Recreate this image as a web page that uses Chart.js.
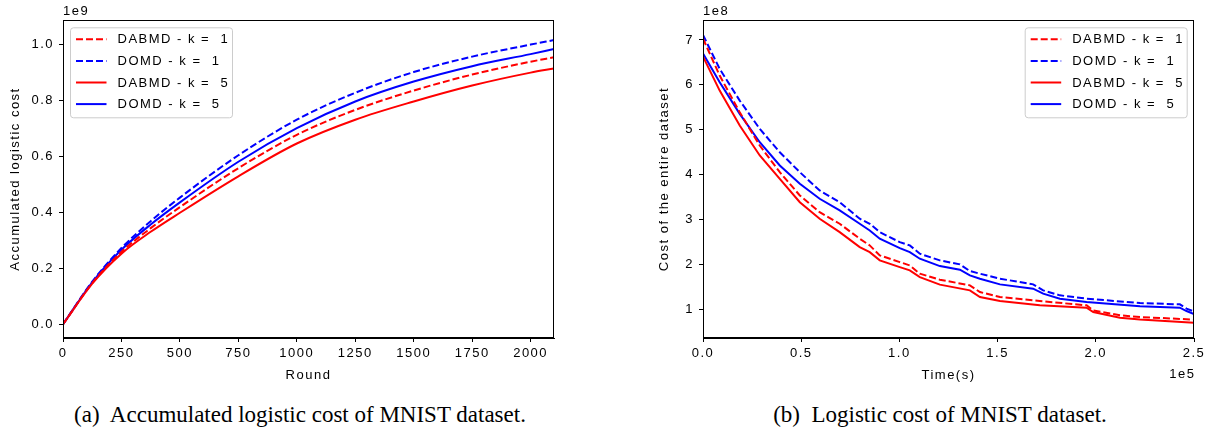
<!DOCTYPE html>
<html><head><meta charset="utf-8">
<script src="https://cdn.jsdelivr.net/npm/chart.js@4.4.1/dist/chart.umd.min.js"></script>
<style>
body{margin:0;background:#fff;width:1212px;height:434px;position:relative;overflow:hidden}
canvas{position:absolute;top:0}
#c1{left:0}
#c2{left:640px}
.cap{position:absolute;font-family:"Liberation Serif","Times New Roman",serif;font-size:23px;line-height:23px;color:#000;white-space:pre;top:403px;transform:translateX(-50%)}
</style></head><body>
<canvas id="c1" width="600" height="388"></canvas>
<canvas id="c2" width="572" height="388"></canvas>
<div class="cap" style="left:300px">(a)  Accumulated logistic cost of MNIST dataset.</div>
<div class="cap" style="left:940px">(b)  Logistic cost of MNIST dataset.</div>
<script>
// ---------- (a) Accumulated logistic cost (units of 1e9) ----------
const rounds = [0, 125, 250, 375, 500, 750, 1000, 1250, 1500, 1750, 2000, 2100];
const accDABMDk1 = [0, 0.147, 0.258, 0.343, 0.418, 0.557, 0.676, 0.765, 0.834, 0.891, 0.937, 0.9525];
const accDOMDk1  = [0, 0.152, 0.272, 0.368, 0.452, 0.603, 0.730, 0.826, 0.900, 0.955, 0.998, 1.014];
const accDABMDk5 = [0, 0.145, 0.252, 0.330, 0.398, 0.528, 0.645, 0.730, 0.795, 0.852, 0.898, 0.913];
const accDOMDk5  = [0, 0.150, 0.266, 0.356, 0.435, 0.580, 0.700, 0.795, 0.866, 0.921, 0.964, 0.982];
const roundTicks = [0, 250, 500, 750, 1000, 1250, 1500, 1750, 2000];
const accTicks = [0, 0.2, 0.4, 0.6, 0.8, 1.0];

// ---------- (b) Logistic cost of the entire dataset (time in s, cost in 1e8) ----------
const timeEarly = [0, 8500, 18700, 28900, 39100, 49300, 59400, 69600, 79800, 84900, 90000, 100200, 105300, 110400];
const timeLateDOMD = [120600, 130800, 135900, 141000, 151200, 168100, 173200, 181700, 195300, 222500, 242800, 246200, 250000];
const timeLateDABMD = [120600, 135900, 141000, 151200, 171500, 195300, 198700, 212300, 222500, 250000];
const costDABMDk1 = [7.03, 6.207, 5.391, 4.651, 4.058, 3.540, 3.169, 2.911, 2.578, 2.429, 2.207, 2.058, 1.984, 1.800,
                     1.667, 1.540, 1.391, 1.280, 1.191, 1.096, 0.984, 0.873, 0.836, 0.778];
const costDOMDk1  = [7.11, 6.356, 5.651, 5.022, 4.502, 4.058, 3.651, 3.391, 3.022, 2.911, 2.724, 2.502, 2.429, 2.244,
                     2.096, 2.007, 1.858, 1.800, 1.689, 1.562, 1.429, 1.318, 1.244, 1.147, 1.118, 1.022, 0.96];
const costDABMDk5 = [6.63, 5.873, 5.096, 4.429, 3.911, 3.391, 3.022, 2.724, 2.391, 2.280, 2.096, 1.947, 1.873, 1.724,
                     1.556, 1.429, 1.280, 1.191, 1.096, 1.044, 0.947, 0.822, 0.778, 0.71];
const costDOMDk5  = [6.70, 6.058, 5.356, 4.724, 4.207, 3.800, 3.467, 3.207, 2.911, 2.762, 2.578, 2.369, 2.280, 2.133,
                     1.969, 1.889, 1.762, 1.689, 1.562, 1.467, 1.356, 1.244, 1.169, 1.073, 1.044, 0.969, 0.90];
const timeTicks = [0, 50000, 100000, 150000, 200000, 250000];
const costTicks = [1, 2, 3, 4, 5, 6, 7];

const labels = ['DABMD - k =  1', 'DOMD - k =  1', 'DABMD - k =  5', 'DOMD - k =  5'];
const RED = '#ff0000', BLUE = '#0000ff';

function pts(xs, ys, mult){ return xs.map((x,i)=>({x:x, y:ys[i]*mult})); }

Chart.defaults.font.family = '"Liberation Sans", Arial, Helvetica, sans-serif';
Chart.defaults.font.size = 13;
Chart.defaults.color = '#000';
Chart.defaults.animation = false;

const spacingPlugin = {
  id:'spacing',
  beforeLayout(c){ c.ctx.letterSpacing = '1.5px'; },
  beforeDraw(c){ c.ctx.letterSpacing = '1.5px'; }
};

const framePlugin = {
  id:'frame',
  afterDraw(c, args, o){
    const ctx = c.ctx, a = c.chartArea;
    ctx.save();
    ctx.strokeStyle = '#000'; ctx.lineWidth = 1;
    ctx.strokeRect(Math.round(a.left)+0.5, Math.round(a.top)+0.5, Math.round(a.right-a.left)-1, Math.round(a.bottom-a.top)-1);
    ctx.letterSpacing = '1.5px';
    ctx.font = '13px "Liberation Sans", Arial, sans-serif';
    ctx.fillStyle = '#000';
    ctx.textBaseline = 'alphabetic';
    if (o.yOffset){ ctx.textAlign='left'; ctx.fillText(o.yOffset, a.left, 15); }
    if (o.xOffset){ ctx.textAlign='right'; ctx.fillText(o.xOffset, a.right+1.5, 378); }
    ctx.restore();
  }
};

const legendPlugin = {
  id:'boxLegend',
  afterDatasetsDraw(c, args, o){
    const ctx = c.ctx, a = c.chartArea;
    const w = 162, h = 90;
    const x = o.side === 'left' ? a.left + 7 : a.right - 7.3 - w;
    const y = a.top + 7.3;
    ctx.save();
    ctx.beginPath();
    ctx.roundRect(x+0.5, y+0.5, w, h, 3);
    ctx.fillStyle = 'rgba(255,255,255,0.8)'; ctx.fill();
    ctx.strokeStyle = '#cccccc'; ctx.lineWidth = 1; ctx.stroke();
    ctx.letterSpacing = '1.5px';
    ctx.font = '13px "Liberation Sans", Arial, sans-serif';
    ctx.textBaseline = 'middle'; ctx.textAlign = 'left';
    c.data.datasets.forEach((ds,i)=>{
      const ry = y + 12 + i*21.6;
      ctx.beginPath();
      ctx.setLineDash(ds.borderDash || []);
      ctx.strokeStyle = ds.borderColor; ctx.lineWidth = 2;
      ctx.moveTo(x+6, ry); ctx.lineTo(x+36.5, ry); ctx.stroke();
      ctx.setLineDash([]);
      ctx.fillStyle = '#000';
      ctx.fillText(ds.label, x+47.5, ry+0.5);
    });
    ctx.restore();
  }
};

function axisCommon(){
  return {
    type:'linear',
    grid:{drawOnChartArea:false, drawTicks:true, tickLength:4, color:'#000', tickColor:'#000', tickWidth:1},
    border:{display:true, color:'#000', width:1},
  };
}

function dsets(series, mode){
  const styles = [[RED,[7,3]],[BLUE,[7,3]],[RED,[]],[BLUE,[]]];
  return series.map((s,i)=>({
    label: labels[i], data: s, borderColor: styles[i][0], borderDash: styles[i][1],
    borderWidth: 2, pointRadius: 0, fill:false, tension:0, cubicInterpolationMode: mode
  }));
}

// Chart (a)
new Chart(document.getElementById('c1'), {
  type:'line',
  data:{ datasets: dsets([
    pts(rounds, accDABMDk1, 1e9), pts(rounds, accDOMDk1, 1e9),
    pts(rounds, accDABMDk5, 1e9), pts(rounds, accDOMDk5, 1e9)], 'monotone') },
  options:{
    responsive:false, devicePixelRatio:1,
    layout:{padding:{left:0, right:46, top:20, bottom:0}},
    plugins:{legend:{display:false}, tooltip:{enabled:false}, frame:{yOffset:'1e9'}, boxLegend:{side:'left'}},
    scales:{
      x: Object.assign(axisCommon(), {
        min:0, max:2100,
        afterBuildTicks: s => { s.ticks = roundTicks.map(v=>({value:v})); },
        ticks:{autoSkip:false, maxRotation:0, padding:4, callback:v=>String(v)},
        title:{display:true, text:'Round', padding:{top:0, bottom:5}},
        afterFit: s => { s.height = 50; }
      }),
      y: Object.assign(axisCommon(), {
        min:-0.0489e9, max:1.0857e9,
        afterBuildTicks: s => { s.ticks = accTicks.map(v=>({value:v*1e9})); },
        ticks:{autoSkip:false, padding:5, callback:v=>(v/1e9).toFixed(1)},
        title:{display:true, text:'Accumulated logistic cost', padding:{top:8, bottom:0}},
        afterFit: s => { s.width = 63; }
      })
    }
  },
  plugins:[spacingPlugin, framePlugin, legendPlugin]
});

// Chart (b)
new Chart(document.getElementById('c2'), {
  type:'line',
  data:{ datasets: dsets([
    pts(timeEarly.concat(timeLateDABMD), costDABMDk1, 1e8),
    pts(timeEarly.concat(timeLateDOMD), costDOMDk1, 1e8),
    pts(timeEarly.concat(timeLateDABMD), costDABMDk5, 1e8),
    pts(timeEarly.concat(timeLateDOMD), costDOMDk5, 1e8)], 'default') },
  options:{
    responsive:false, devicePixelRatio:1,
    layout:{padding:{left:0, right:18, top:20, bottom:0}},
    plugins:{legend:{display:false}, tooltip:{enabled:false}, frame:{yOffset:'1e8', xOffset:'1e5'}, boxLegend:{side:'right'}},
    scales:{
      x: Object.assign(axisCommon(), {
        min:0, max:250000,
        afterBuildTicks: s => { s.ticks = timeTicks.map(v=>({value:v})); },
        ticks:{autoSkip:false, maxRotation:0, padding:4, callback:v=>(v/1e5).toFixed(1)},
        title:{display:true, text:'Time(s)', padding:{top:0, bottom:5}},
        afterFit: s => { s.height = 50; }
      }),
      y: Object.assign(axisCommon(), {
        min:0.369e8, max:7.444e8,
        afterBuildTicks: s => { s.ticks = costTicks.map(v=>({value:v*1e8})); },
        ticks:{autoSkip:false, padding:5, callback:v=>(v/1e8).toFixed(0)},
        title:{display:true, text:'Cost of the entire dataset', padding:{top:17, bottom:0}},
        afterFit: s => { s.width = 63; }
      })
    }
  },
  plugins:[spacingPlugin, framePlugin, legendPlugin]
});
</script>
</body></html>
